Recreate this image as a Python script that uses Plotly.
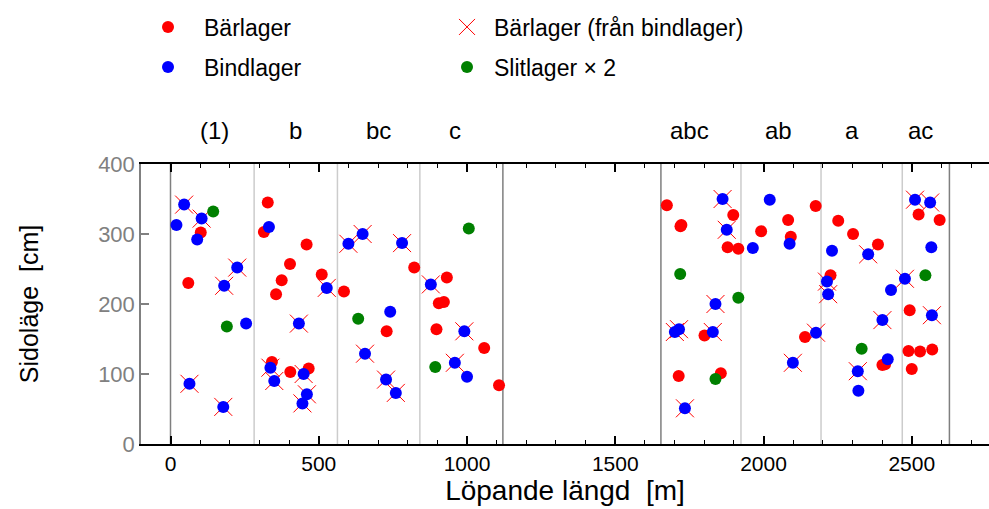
import plotly.graph_objects as go

# ---------------- data ----------------
bar_x = [102, 60, 328, 315, 459, 403, 375, 356, 510, 585, 342, 404, 466, 822, 932, 905, 922,
         729, 897, 1058, 1108,
         1674, 1720, 1723, 1714, 1898, 1879, 1915, 1992, 2083, 2092, 2176, 1801, 1856, 2140,
         2252, 2302, 2386, 2226, 2493, 2489, 2528, 2569, 2401, 2410, 2500, 2523, 2594]
bar_y = [302, 230, 345, 303, 285, 257, 234, 214, 242, 218, 117, 103, 108, 252, 238, 201, 203,
         161, 164, 137, 84,
         341, 311, 313, 97, 327, 281, 279, 304, 320, 296, 340, 155, 101, 153,
         319, 300, 285, 241, 191, 133, 132, 135, 113, 114, 107, 328, 320]

bind_x = [20, 46, 105, 90, 225, 181, 255, 64, 178, 332, 527, 433, 337, 350, 449, 460, 445,
          600, 648, 781, 878, 741, 991, 656, 959, 1000, 727, 760,
          1701, 1715, 1735, 1862, 1876, 1964, 2021, 2088, 1838, 1829, 2099, 2177,
          2511, 2562, 2566, 2477, 2231, 2353, 2214, 2218, 2430, 2401, 2568, 2419, 2318, 2320]
bind_y = [313, 342, 322, 292, 252, 226, 172, 86, 53, 310, 223, 172, 109, 90, 100, 71, 58,
          286, 300, 287, 228, 189, 161, 129, 116, 96, 92, 73,
          160, 164, 51, 350, 306, 280, 349, 286, 200, 160, 116, 159,
          349, 345, 281, 236, 276, 271, 232, 214, 220, 177, 184, 121, 104, 76]
# 1 = also marked as Bärlager (från bindlager)
fran_bind = [0, 1, 1, 0, 1, 1, 0, 1, 1, 0, 1, 1, 1, 1, 1, 1, 1,
             1, 1, 1, 1, 0, 1, 1, 1, 0, 1, 1,
             1, 1, 1, 1, 1, 0, 0, 0, 1, 1, 1, 1,
             1, 1, 0, 1, 0, 1, 1, 1, 0, 1, 1, 0, 1, 0]

slit_x = [144, 190, 633, 893, 1006, 1719, 1915, 1838, 2331, 2546]
slit_y = [332, 168, 179, 110, 308, 243, 209, 93, 136, 241]

section_names = ["(1)", "b", "bc", "c", "abc", "ab", "a", "ac"]
section_label_x = [147, 420, 700, 960, 1752, 2052, 2298, 2528]
major_bounds = [0, 1121, 1654, 2627]
minor_bounds = [282, 563, 841, 1924, 2194, 2468]

x_ticks = [0, 500, 1000, 1500, 2000, 2500]
y_ticks = [0, 100, 200, 300, 400]

# ---------------- figure ----------------
FONT = "Liberation Sans, Arial, sans-serif"
fig = go.Figure()

fig.add_trace(go.Scatter(
    x=bar_x, y=bar_y, mode="markers", name="Bärlager",
    marker=dict(color="#ff0000", size=12, line=dict(width=0)),
    legend="legend"))

fx = [x for x, f in zip(bind_x, fran_bind) if f]
fy = [y for y, f in zip(bind_y, fran_bind) if f]
fig.add_trace(go.Scatter(
    x=fx, y=fy, mode="markers", name="Bärlager (från bindlager)",
    marker=dict(symbol="x-thin-open", color="#ff0000", size=18,
                line=dict(width=1, color="#ff0000")),
    legend="legend3"))

fig.add_trace(go.Scatter(
    x=bind_x, y=bind_y, mode="markers", name="Bindlager",
    marker=dict(color="#0000ff", size=12, line=dict(width=0)),
    legend="legend2"))

fig.add_trace(go.Scatter(
    x=slit_x, y=slit_y, mode="markers", name="Slitlager \u00d7 2",
    marker=dict(color="#008000", size=12, line=dict(width=0)),
    legend="legend4"))

shapes = []
for b in major_bounds:
    shapes.append(dict(type="line", xref="x", yref="y", x0=b, x1=b, y0=0, y1=400,
                       line=dict(color="#7f7f7f", width=1.5), layer="below"))
for b in minor_bounds:
    shapes.append(dict(type="line", xref="x", yref="y", x0=b, x1=b, y0=0, y1=400,
                       line=dict(color="#cccccc", width=1.5), layer="below"))

annotations = []
for name, sx in zip(section_names, section_label_x):
    annotations.append(dict(x=sx, xref="x", y=1.118, yref="paper", text=name,
                            showarrow=False, xanchor="center", yanchor="middle",
                            font=dict(size=24, color="black", family=FONT)))

W, H = 989, 509
ml, mr, mt, mb = 141, 0, 164, 65
pw, ph = W - ml - mr, H - mt - mb


def px2paper(px, py):
    return (px - ml) / pw, (H - mb - py) / ph


def leg(px, py, iw):
    x, y = px2paper(px, py)
    return dict(x=x, y=y, bgcolor="rgba(0,0,0,0)", borderwidth=0,
                font=dict(size=23, color="black", family=FONT),
                xanchor="left", yanchor="middle", itemwidth=iw)


fig.update_layout(
    width=W, height=H,
    margin=dict(l=ml, r=mr, t=mt, b=mb, pad=0),
    paper_bgcolor="white", plot_bgcolor="white",
    font=dict(family=FONT),
    showlegend=True,
    legend=leg(132, 27, 62),
    legend2=leg(132, 67, 62),
    legend3=leg(440, 27, 44),
    legend4=leg(440, 67, 44),
    shapes=shapes,
    annotations=annotations,
    xaxis=dict(
        range=[-99.5, 2760.5], showgrid=False, zeroline=False,
        showline=True, linecolor="black", linewidth=2, mirror="ticks",
        tickvals=x_ticks, ticks="inside", ticklen=8, tickwidth=2, tickcolor="black",
        minor=dict(dtick=100, tick0=0, ticks="inside", ticklen=4, tickwidth=1,
                   tickcolor="black", showgrid=False),
        tickfont=dict(size=21, color="black", family=FONT),
        title=dict(text="Löpande längd  [m]", font=dict(size=28, color="black", family=FONT),
                   standoff=5),
    ),
    yaxis=dict(
        range=[0, 400], showgrid=False, zeroline=False,
        showline=True, linecolor="#808080", linewidth=1.5,
        tickvals=y_ticks, ticks="inside", ticklen=8, tickwidth=1.5, tickcolor="#808080",
        tickfont=dict(size=22, color="#808080", family=FONT),
        title=dict(text="Sidoläge  [cm]", font=dict(size=25, color="black", family=FONT),
                   standoff=52),
    ),
)

fig.write_html("out.html")
